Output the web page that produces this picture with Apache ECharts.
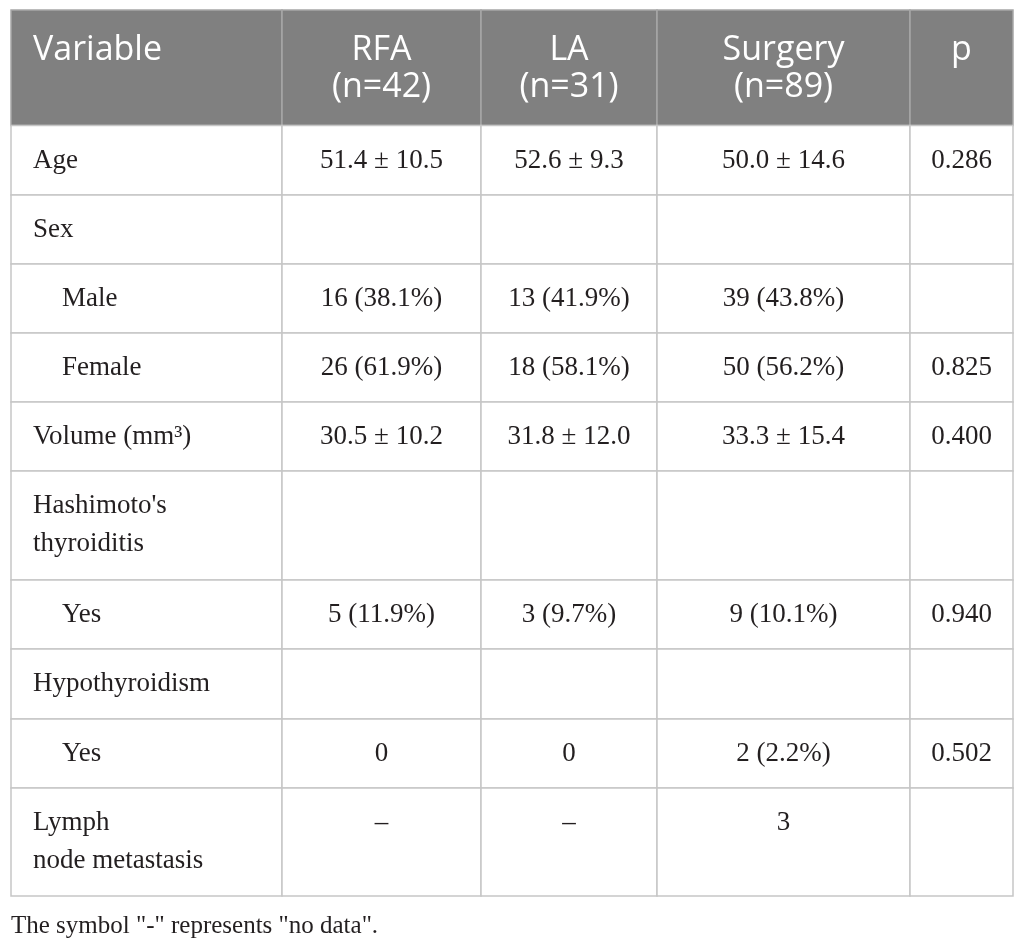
<!DOCTYPE html>
<html>
<head>
<meta charset="utf-8">
<script src="https://cdn.jsdelivr.net/npm/echarts@6/dist/echarts.min.js"></script>
<style>
html,body{margin:0;padding:0;background:#ffffff;}
#chart{width:1026px;height:950px;}
</style>
</head>
<body>
<div id="chart"></div>
<script>
// ---- table content ----
const headers = ['Variable', 'RFA\n(n=42)', 'LA\n(n=31)', 'Surgery\n(n=89)', 'p'];
const variables = ['Age', 'Sex', 'Male', 'Female', 'Volume (mm\u00B3)', "Hashimoto's\nthyroiditis", 'Yes', 'Hypothyroidism', 'Yes', 'Lymph\nnode metastasis'];
const indented = [false, false, true, true, false, false, true, false, true, false];
const rfa = ['51.4 \u00B1 10.5', '', '16 (38.1%)', '26 (61.9%)', '30.5 \u00B1 10.2', '', '5 (11.9%)', '', '0', '\u2013'];
const la = ['52.6 \u00B1 9.3', '', '13 (41.9%)', '18 (58.1%)', '31.8 \u00B1 12.0', '', '3 (9.7%)', '', '0', '\u2013'];
const surgery = ['50.0 \u00B1 14.6', '', '39 (43.8%)', '50 (56.2%)', '33.3 \u00B1 15.4', '', '9 (10.1%)', '', '2 (2.2%)', '3'];
const pValues = ['0.286', '', '', '0.825', '0.400', '', '0.940', '', '0.502', ''];
const footnote = 'The symbol "-" represents "no data".';

// ---- layout (pixel grid of the page) ----
const colEdges = [11, 282, 481, 657, 910, 1013];
const rowEdges = [10, 125.5, 195, 264, 333, 402, 471, 580, 649, 719, 788, 896];

const columnsData = [variables, rfa, la, surgery, pValues];
const cells = [];
for (let c = 0; c < headers.length; c++) cells.push([c, 0, headers[c]]);
for (let r = 0; r < variables.length; r++) {
  for (let c = 0; c < columnsData.length; c++) cells.push([c, r + 1, columnsData[c][r]]);
}

const chart = echarts.init(document.getElementById('chart'), null, {renderer: 'canvas'});

function renderCell(params, api) {
  const c = api.value(0), r = api.value(1);
  const text = cells[params.dataIndex][2];
  const p0 = api.coord([colEdges[c], rowEdges[r]]);
  const p1 = api.coord([colEdges[c + 1], rowEdges[r + 1]]);
  const isHeader = r === 0;
  const children = [{
    type: 'rect',
    shape: {x: p0[0], y: p0[1], width: p1[0] - p0[0], height: p1[1] - p0[1]},
    style: {fill: isHeader ? '#808080' : '#ffffff', stroke: isHeader ? '#a6a6a6' : '#c6c6c6', lineWidth: 1.5}
  }];
  let tx, align;
  if (c === 0) {
    align = 'left';
    tx = p0[0] + ((!isHeader && indented[r - 1]) ? 51 : 22);
  } else {
    align = 'center';
    tx = (p0[0] + p1[0]) / 2;
  }
  if (isHeader) {
    children.push({
      type: 'text',
      style: {text: text, x: tx, y: p0[1] + 22, align: align, verticalAlign: 'top',
        fill: '#ffffff', fontFamily: 'Open Sans', fontSize: 34, lineHeight: 37}
    });
  } else {
    children.push({
      type: 'text',
      style: {text: text, x: tx, y: p0[1] + 16, align: align, verticalAlign: 'top',
        fill: '#231f20', fontFamily: 'Liberation Serif', fontSize: 27, lineHeight: 38}
    });
  }
  return {type: 'group', children: children};
}

chart.setOption({
  animation: false,
  backgroundColor: '#ffffff',
  title: {
    text: footnote, left: 11, top: 914, padding: 0,
    textStyle: {fontFamily: 'Liberation Serif', fontSize: 25, fontWeight: 'normal', color: '#231f20'}
  },
  grid: {left: 0, right: 0, top: 0, bottom: 0},
  xAxis: {type: 'value', min: 0, max: 1026, show: false},
  yAxis: {type: 'value', min: 0, max: 950, inverse: true, show: false},
  series: [{
    type: 'custom',
    clip: false,
    renderItem: renderCell,
    data: cells.map(d => [d[0], d[1]])
  }]
});
</script>
</body>
</html>
